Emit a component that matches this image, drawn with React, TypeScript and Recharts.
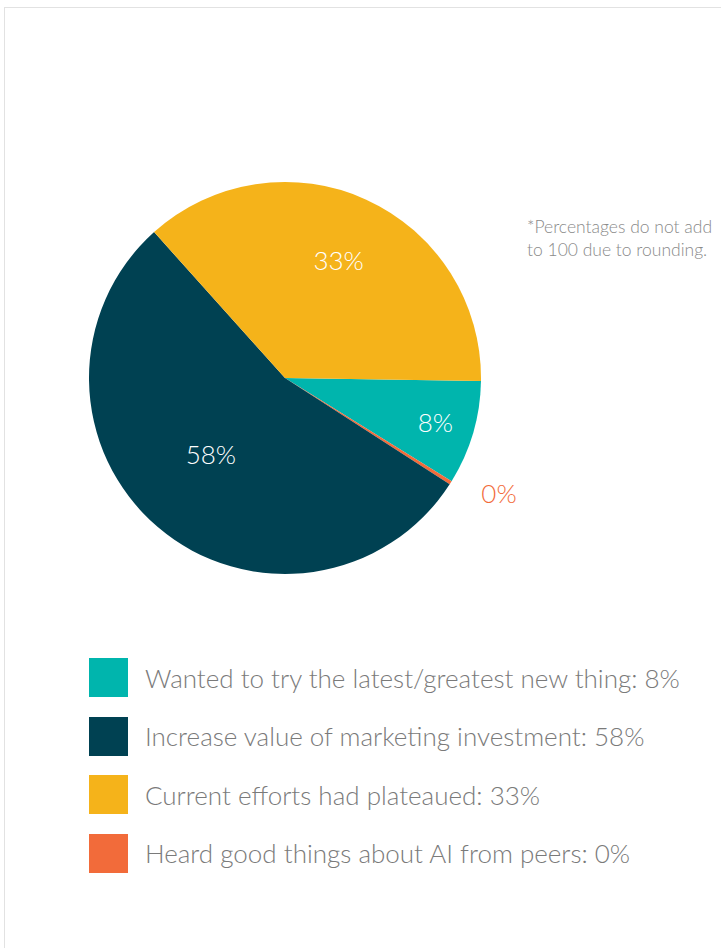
import React from 'react';
import { PieChart, Pie, Cell } from 'recharts';

// slice order as drawn, clockwise from 3 o'clock
const sliceNames = [
  'Wanted to try the latest/greatest new thing',
  'Heard good things about AI from peers',
  'Increase value of marketing investment',
  'Current efforts had plateaued',
];
// shares measured from the wedge angles
const sliceShares = [8.6, 0.3, 54.4, 37.0];
// printed percentages
const sliceLabels = ['8%', '0%', '58%', '33%'];
const sliceColors = ['#00b5ad', '#f26b3a', '#004152', '#f5b31a'];

// legend order
const legendNames = [
  'Wanted to try the latest/greatest new thing',
  'Increase value of marketing investment',
  'Current efforts had plateaued',
  'Heard good things about AI from peers',
];
const legendLabels = ['8%', '58%', '33%', '0%'];
const legendColors = ['#00b5ad', '#004152', '#f5b31a', '#f26b3a'];

const note = ['*Percentages do not add', 'to 100 due to rounding.'];

const data = sliceNames.map((name, i) => ({ name, value: sliceShares[i], label: sliceLabels[i] }));

const FONT = 'Lato, "Open Sans", sans-serif';
const RAD = Math.PI / 180;
// label radius (fraction of outer radius) and angle nudge per slice
const labelPos = [
  { r: 0.8, da: 0 },
  { r: 1.24, da: 4 },
  { r: 0.54, da: -4 },
  { r: 0.66, da: 0 },
];

const renderLabel = (props: any) => {
  const { cx, cy, midAngle, outerRadius, index, payload } = props;
  const p = labelPos[index];
  const a = (midAngle + p.da) * RAD;
  const r = outerRadius * p.r;
  const x = cx + r * Math.cos(-a);
  const y = cy + r * Math.sin(-a);
  return (
    <text
      x={x}
      y={y}
      textAnchor="middle"
      dominantBaseline="central"
      fill={index === 1 ? '#f26b3a' : '#ffffff'}
      fontSize={26}
      fontFamily={FONT}
      fontWeight={300}
    >
      {payload.label}
    </text>
  );
};

const App = () => {
  return (
    <div
      style={{
        position: 'absolute',
        left: 0,
        top: 0,
        width: 721,
        height: 948,
        overflow: 'hidden',
        background: '#fff',
        fontFamily: FONT,
      }}
    >
      <div
        style={{
          position: 'absolute',
          left: 4,
          top: 7,
          width: 760,
          height: 980,
          borderTop: '1px solid #e2e2e2',
          borderLeft: '1px solid #e2e2e2',
        }}
      />
      <div style={{ position: 'absolute', left: 0, top: 0 }}>
        <PieChart width={721} height={620}>
          <Pie
            data={data}
            dataKey="value"
            nameKey="name"
            cx={280}
            cy={373}
            outerRadius={196}
            startAngle={-0.9}
            endAngle={-360.9}
            stroke="none"
            label={renderLabel}
            labelLine={false}
            isAnimationActive={false}
          >
            {data.map((d, i) => (
              <Cell key={d.name} fill={sliceColors[i]} />
            ))}
          </Pie>
        </PieChart>
      </div>
      <div
        style={{
          position: 'absolute',
          left: 527,
          top: 215,
          fontSize: 17.5,
          lineHeight: '23px',
          color: '#8a8a8a',
          fontWeight: 300,
          whiteSpace: 'nowrap',
        }}
      >
        {note.map((t) => (
          <div key={t}>{t}</div>
        ))}
      </div>
      <div style={{ position: 'absolute', left: 89, top: 658 }}>
        {legendNames.map((name, i) => (
          <div
            key={name}
            style={{ display: 'flex', alignItems: 'center', height: 39, marginBottom: 19.5 }}
          >
            <div style={{ width: 39, height: 39, background: legendColors[i] }} />
            <span
              style={{
                marginLeft: 17,
                fontSize: 26,
                color: '#7a7a7a',
                fontWeight: 300,
                whiteSpace: 'nowrap',
              }}
            >
              {name}: {legendLabels[i]}
            </span>
          </div>
        ))}
      </div>
    </div>
  );
};

export default App;
